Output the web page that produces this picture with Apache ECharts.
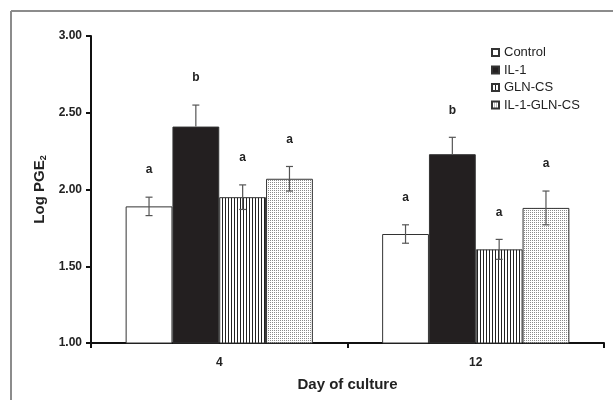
<!DOCTYPE html>
<html><head><meta charset="utf-8">
<script src="https://cdn.jsdelivr.net/npm/echarts@6/dist/echarts.min.js"></script>
<style>html,body{margin:0;padding:0;background:#fff}#c{width:613px;height:400px}</style>
</head><body><div id="c"></div>
<script>
const categories = ['4', '12'];
const seriesNames = ['Control', 'IL-1', 'GLN-CS', 'IL-1-GLN-CS'];
const controlVals = [1.89, 1.71];
const il1Vals = [2.41, 2.23];
const glnVals = [1.95, 1.61];
const il1GlnVals = [2.07, 1.88];
const controlErr = [0.06, 0.06];
const il1Err = [0.14, 0.11];
const glnErr = [0.08, 0.065];
const il1GlnErr = [0.08, 0.11];
const controlLetters = ['a', 'a'];
const il1Letters = ['b', 'b'];
const glnLetters = ['a', 'a'];
const il1GlnLetters = ['a', 'a'];
const yTicks = [1.0, 1.5, 2.0, 2.5, 3.0];

const allVals = [controlVals, il1Vals, glnVals, il1GlnVals];
const allErr = [controlErr, il1Err, glnErr, il1GlnErr];
const allLetters = [controlLetters, il1Letters, glnLetters, il1GlnLetters];

function makePattern(w, h, draw) {
  const c = document.createElement('canvas');
  c.width = w; c.height = h;
  const ctx = c.getContext('2d');
  ctx.fillStyle = '#fff'; ctx.fillRect(0, 0, w, h);
  draw(ctx);
  return { image: c, repeat: 'repeat' };
}
const stripes = makePattern(3, 4, ctx => { ctx.fillStyle = '#222'; ctx.fillRect(0, 0, 1, 4); });
const dots = makePattern(2, 2, ctx => { ctx.fillStyle = '#8a8a8a'; ctx.fillRect(0, 0, 1, 1); });

const fills = ['#ffffff', '#231f20', stripes, dots];
const FONT = 'Arial, "Liberation Sans", sans-serif';

const errData = [];
for (let s = 0; s < 4; s++) {
  for (let c = 0; c < categories.length; c++) {
    errData.push([c, s, allVals[s][c], allErr[s][c], allLetters[s][c]]);
  }
}

const barSeries = seriesNames.map((name, i) => ({
  name: name,
  type: 'bar',
  data: allVals[i],
  barGap: '0%',
  barCategoryGap: '27%',
  itemStyle: { color: fills[i], borderColor: '#333', borderWidth: 1 },
  emphasis: { disabled: true },
  z: 2
}));

const chart = echarts.init(document.getElementById('c'), null, { renderer: 'canvas' });
chart.setOption({
  animation: false,
  backgroundColor: '#fff',
  graphic: [
    { type: 'line', shape: { x1: 11, y1: 11, x2: 613, y2: 11 }, style: { stroke: '#8c8c8c', lineWidth: 2 } },
    { type: 'line', shape: { x1: 11, y1: 11, x2: 11, y2: 400 }, style: { stroke: '#8c8c8c', lineWidth: 2 } }
  ],
  grid: { left: 91, right: 9, top: 36, bottom: 57, containLabel: false, outerBoundsMode: 'none' },
  legend: {
    data: seriesNames,
    orient: 'vertical',
    left: 486, top: 41,
    itemWidth: 7, itemHeight: 7,
    itemGap: 4.5,
    icon: 'rect',
    textStyle: { fontFamily: FONT, fontSize: 13, color: '#222', lineHeight: 13 },
    selectedMode: false
  },
  xAxis: {
    type: 'category',
    data: categories,
    name: 'Day of culture',
    nameLocation: 'middle',
    nameGap: 34,
    nameTextStyle: { fontFamily: FONT, fontSize: 15, fontWeight: 'bold', color: '#222' },
    axisLine: { lineStyle: { color: '#111', width: 2 } },
    axisTick: { show: true, length: 5, lineStyle: { color: '#111', width: 2 } },
    axisLabel: { fontFamily: FONT, fontSize: 12, fontWeight: 'bold', color: '#222', margin: 14 }
  },
  yAxis: {
    type: 'value',
    min: 1, max: 3, interval: 0.5,
    name: 'Log PGE{sub|2}',
    nameLocation: 'middle',
    nameGap: 36,
    nameRotate: 90,
    nameTextStyle: {
      fontFamily: FONT, fontSize: 15, fontWeight: 'bold', color: '#222',
      rich: { sub: { fontFamily: FONT, fontSize: 9, fontWeight: 'bold', color: '#222', verticalAlign: 'bottom', padding: [6, 0, 0, 0] } }
    },
    axisLine: { show: true, lineStyle: { color: '#111', width: 2 } },
    axisTick: { show: true, length: 5, lineStyle: { color: '#111', width: 2 } },
    splitLine: { show: false },
    axisLabel: {
      fontFamily: FONT, fontSize: 12, fontWeight: 'bold', color: '#222', margin: 9,
      formatter: v => yTicks.indexOf(v) >= 0 ? v.toFixed(2) : ''
    }
  },
  series: barSeries.concat([{
    type: 'custom',
    name: 'err',
    data: errData,
    encode: { x: 0, y: 2 },
    z: 5,
    silent: true,
    renderItem: function (params, api) {
      const c = api.value(0), s = api.value(1), v = api.value(2), e = api.value(3);
      const letter = errData[params.dataIndex][4];
      const catW = api.size([1, 0])[0];
      const bw = catW * 0.73 / 4;
      const center = api.coord([c, v]);
      const x = center[0] + (s - 1.5) * bw;
      const yHi = api.coord([c, v + e])[1];
      const yLo = api.coord([c, v - e])[1];
      const cap = 3.5;
      const st = { stroke: '#555', lineWidth: 1.2 };
      const onDark = s === 1;
      const children = [
        { type: 'line', shape: { x1: x, y1: yHi, x2: x, y2: onDark ? center[1] : yLo }, style: st },
        { type: 'line', shape: { x1: x - cap, y1: yHi, x2: x + cap, y2: yHi }, style: st },
        { type: 'text', x: x, y: yHi - 27, style: { text: letter, fill: '#222', font: 'bold 12px ' + FONT, align: 'center', verticalAlign: 'middle' } }
      ];
      if (!onDark) children.push({ type: 'line', shape: { x1: x - cap, y1: yLo, x2: x + cap, y2: yLo }, style: st });
      return { type: 'group', children: children };
    }
  }])
});
</script></body></html>
